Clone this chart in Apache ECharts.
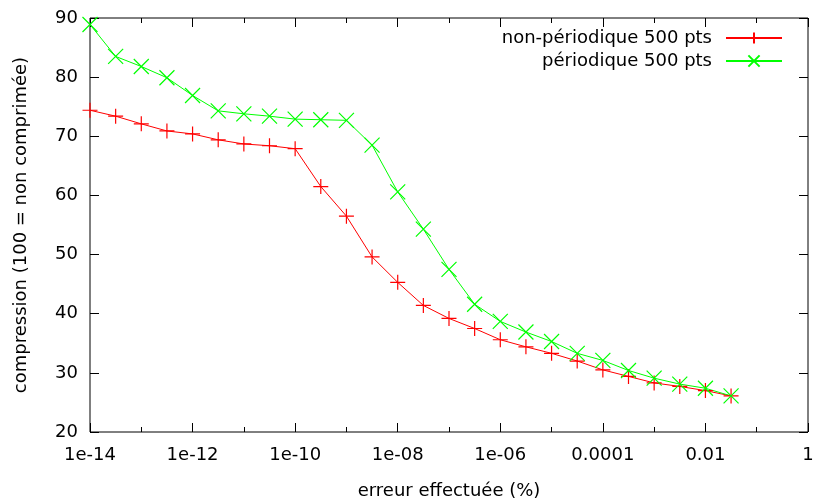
<!DOCTYPE html>
<html>
<head>
<meta charset="utf-8">
<script src="https://cdn.jsdelivr.net/npm/echarts@6/dist/echarts.min.js"></script>
<style>
  html, body { margin: 0; padding: 0; background: #fff; }
  #chart { width: 814px; height: 501px; }
</style>
</head>
<body>
<div id="chart"></div>
<script>
// erreur effectuée (%) : half-decade steps
var errValues = [
  1e-14, 3.162e-14, 1e-13, 3.162e-13, 1e-12, 3.162e-12, 1e-11, 3.162e-11,
  1e-10, 3.162e-10, 1e-9, 3.162e-9, 1e-8, 3.162e-8, 1e-7, 3.162e-7,
  1e-6, 3.162e-6, 1e-5, 3.162e-5, 1e-4, 3.162e-4, 1e-3, 3.162e-3,
  1e-2, 3.162e-2
];
var nonPeriodique = [
  74.4, 73.4, 72.1, 70.9, 70.4, 69.4, 68.7, 68.4, 67.9, 61.5,
  56.5, 49.6, 45.3, 41.4, 39.2, 37.5, 35.6, 34.4, 33.3, 32.0,
  30.5, 29.4, 28.3, 27.7, 27.0, 26.1
];
var periodique = [
  88.9, 83.5, 81.8, 79.9, 76.9, 74.3, 73.8, 73.4, 72.9, 72.8,
  72.7, 68.5, 60.6, 54.3, 47.5, 41.6, 38.7, 36.9, 35.3, 33.3,
  32.1, 30.4, 29.1, 28.1, 27.4, 26.1
];
var seriesNames = ['non-périodique 500 pts', 'périodique 500 pts'];

var FONT = 'DejaVu Sans';
var FS = 18;
var plusPath = 'path://M0,-1L0,1M-1,0L1,0';
var crossPath = 'path://M-1,-1L1,1M-1,1L1,-1';

function fmtX(v) {
  var e = Math.round(Math.log10(v));
  if (e < -4) {
    var n = -e;
    return '1e-' + (n < 10 ? '0' + n : n);
  }
  if (e < 0) return Math.pow(10, e).toFixed(-e);
  return String(Math.round(Math.pow(10, e)));
}

function pairs(xs, ys) {
  return xs.map(function (x, i) { return [x, ys[i]]; });
}

function xAx(pos, interval, tickLen, withLabels) {
  return {
    type: 'log',
    logBase: 10,
    min: 1e-14,
    max: 1,
    interval: interval,
    position: pos,
    axisLine: { show: false },
    axisTick: { show: true, inside: true, length: tickLen, lineStyle: { color: '#000', width: 1 } },
    axisLabel: {
      show: withLabels,
      formatter: fmtX,
      color: '#000',
      fontFamily: FONT,
      fontSize: FS,
      margin: 14
    },
    splitLine: { show: false }
  };
}

var chart = echarts.init(document.getElementById('chart'));
var option = {
  animation: false,
  backgroundColor: '#fff',
  grid: {
    left: 90, right: 6, top: 18, bottom: 69,
    outerBoundsMode: 'none',
    containLabel: false,
    show: true, borderColor: '#000', borderWidth: 1
  },
  legend: {
    orient: 'vertical',
    align: 'right',
    right: 31,
    top: 29,
    padding: 0,
    itemWidth: 56,
    itemHeight: 14,
    itemGap: 5,
    textStyle: { fontFamily: FONT, fontSize: FS, color: '#000', padding: [0, 9, 0, 0] },
    data: seriesNames
  },
  xAxis: [
    Object.assign(xAx('bottom', 2, 9, true), {
      name: 'erreur effectuée (%)',
      nameLocation: 'middle',
      nameGap: 50,
      nameTextStyle: { fontFamily: FONT, fontSize: FS, color: '#000' }
    }),
    xAx('bottom', 1, 5, false),
    xAx('top', 2, 9, false),
    xAx('top', 1, 5, false)
  ],
  yAxis: [
    {
      type: 'value',
      min: 20, max: 90, interval: 10,
      position: 'left',
      name: 'compression (100 = non comprimée)',
      nameLocation: 'middle',
      nameGap: 60,
      nameTextStyle: { fontFamily: FONT, fontSize: FS, color: '#000' },
      axisLine: { show: false },
      axisTick: { show: true, inside: true, length: 9, lineStyle: { color: '#000' } },
      axisLabel: { color: '#000', fontFamily: FONT, fontSize: FS, margin: 12 },
      splitLine: { show: false }
    },
    {
      type: 'value',
      min: 20, max: 90, interval: 10,
      position: 'right',
      axisLine: { show: false },
      axisTick: { show: true, inside: true, length: 9, lineStyle: { color: '#000' } },
      axisLabel: { show: false },
      splitLine: { show: false }
    }
  ],
  series: [
    {
      name: seriesNames[0],
      type: 'line',
      xAxisIndex: 0,
      yAxisIndex: 0,
      data: pairs(errValues, nonPeriodique),
      symbol: plusPath,
      symbolSize: 15,
      showAllSymbol: true,
      lineStyle: { color: '#ff0000', width: 1 },
      itemStyle: { color: '#ff0000', borderColor: '#ff0000', borderWidth: 1.2 }
    },
    {
      name: seriesNames[1],
      type: 'line',
      xAxisIndex: 0,
      yAxisIndex: 0,
      data: pairs(errValues, periodique),
      symbol: crossPath,
      symbolSize: 15,
      showAllSymbol: true,
      lineStyle: { color: '#00ff00', width: 1 },
      itemStyle: { color: '#00ff00', borderColor: '#00ff00', borderWidth: 1.2 }
    }
  ]
};
chart.setOption(option);
</script>
</body>
</html>
